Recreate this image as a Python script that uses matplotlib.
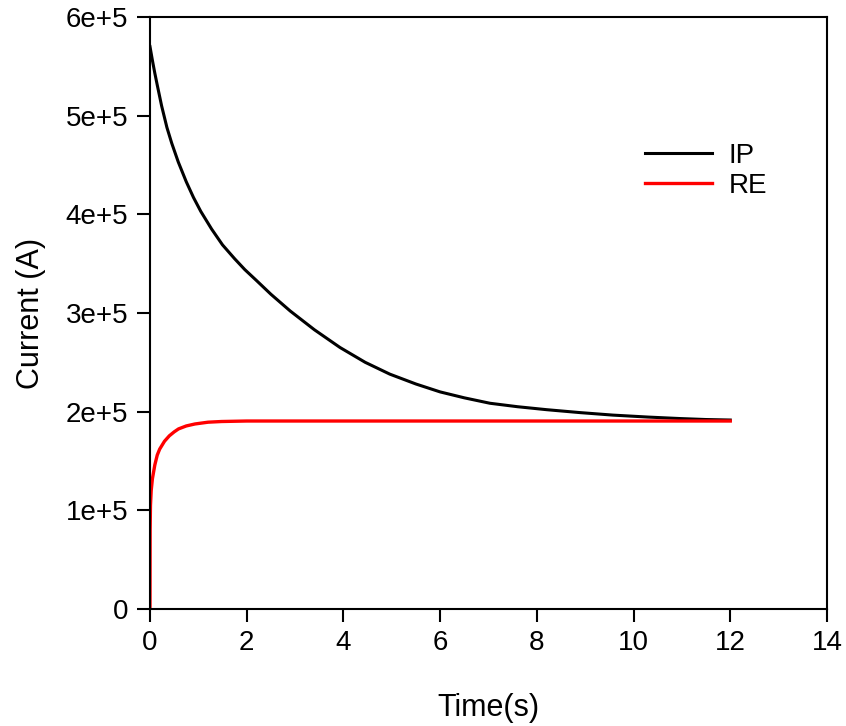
import numpy as np
import matplotlib
matplotlib.use('Agg')
import matplotlib.pyplot as plt
from matplotlib.ticker import FuncFormatter

plt.rcParams['font.family'] = ['Liberation Sans', 'DejaVu Sans']

# IP current decay
ip_time = [0.0, 0.05, 0.1, 0.15, 0.24, 0.35, 0.45, 0.585, 0.75, 0.9, 1.05, 1.275,
           1.5, 1.75, 1.96, 2.2, 2.5, 2.9, 3.4, 3.93, 4.45, 4.96, 5.5, 6.0, 6.5,
           7.03, 7.6, 8.2, 8.9, 9.57, 10.3, 10.96, 11.5, 12.0]
ip_current = [5.70e5, 5.56e5, 5.43e5, 5.31e5, 5.10e5, 4.88e5, 4.72e5, 4.53e5,
              4.33e5, 4.17e5, 4.03e5, 3.85e5, 3.69e5, 3.55e5, 3.44e5, 3.33e5,
              3.19e5, 3.02e5, 2.83e5, 2.65e5, 2.50e5, 2.38e5, 2.28e5, 2.20e5,
              2.14e5, 2.085e5, 2.05e5, 2.02e5, 1.99e5, 1.965e5, 1.945e5, 1.93e5,
              1.92e5, 1.915e5]

# RE current rise
re_time = [0.0, 0.003, 0.01, 0.025, 0.05, 0.1, 0.15, 0.2, 0.3, 0.4, 0.5, 0.59,
           0.75, 0.93, 1.2, 1.48, 2.0, 4.0, 8.0, 12.0]
re_current = [0.0, 0.8e5, 1.05e5, 1.2e5, 1.32e5, 1.46e5, 1.56e5, 1.62e5, 1.70e5,
              1.755e5, 1.795e5, 1.825e5, 1.855e5, 1.875e5, 1.893e5, 1.90e5,
              1.905e5, 1.905e5, 1.905e5, 1.905e5]

x_ticks = [0, 2, 4, 6, 8, 10, 12, 14]
y_ticks = [0, 1e5, 2e5, 3e5, 4e5, 5e5, 6e5]

fig = plt.figure(figsize=(8.46, 7.26), dpi=100)
ax = fig.add_axes([0.1773, 0.1612, 0.8002, 0.8154])

ax.plot(ip_time, ip_current, color='black', linewidth=2.2, label='IP')
ax.plot(re_time, re_current, color='#ff0000', linewidth=2.4, label='RE')

ax.set_xlim(0, 14)
ax.set_ylim(0, 6e5)
ax.set_xticks(x_ticks)
ax.set_yticks(y_ticks)


def sci_fmt(v, pos):
    if v == 0:
        return '0'
    return f'{int(round(v / 1e5))}e+5'


ax.yaxis.set_major_formatter(FuncFormatter(sci_fmt))
ax.tick_params(direction='out', length=9.5, width=1.5, labelsize=20, pad=6,
               top=False, right=False)
for side in ['top', 'right', 'left', 'bottom']:
    ax.spines[side].set_linewidth(1.5)

ax.set_xlabel('Time(s)', fontsize=22, labelpad=26)
ax.set_ylabel('Current (A)', fontsize=22, labelpad=14)

ax.legend(loc='center left', bbox_to_anchor=(0.695, 0.74), frameon=False,
          fontsize=20, handlelength=2.4, handletextpad=0.6, labelspacing=0.15)

fig.savefig('out.png', dpi=100)
